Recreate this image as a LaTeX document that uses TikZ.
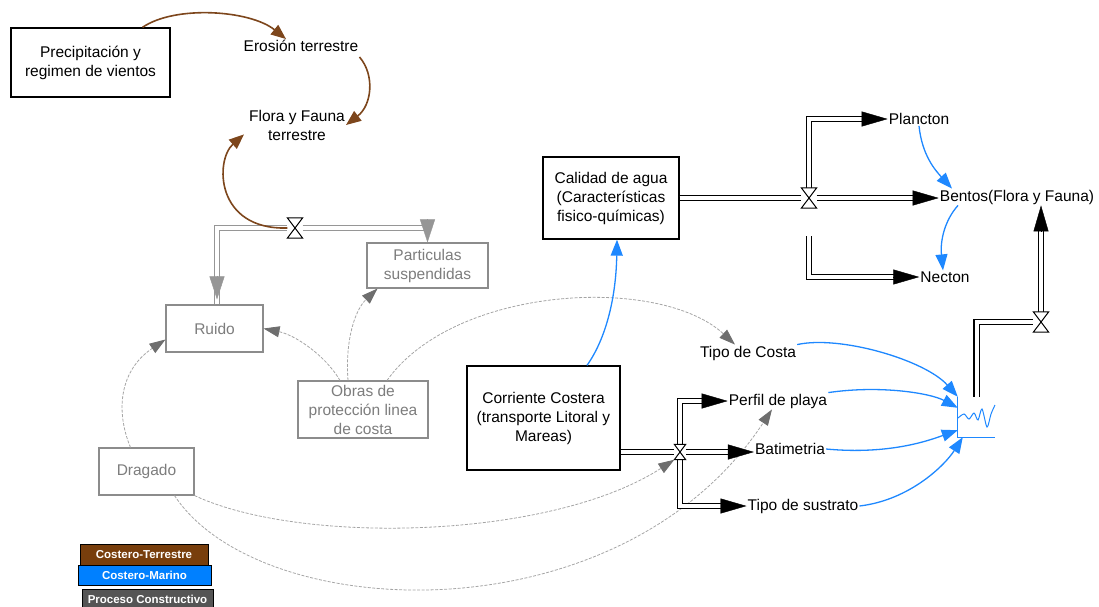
\documentclass[tikz,border=0pt]{standalone}
\usepackage{fontspec}
\setmainfont{Liberation Sans}
\usetikzlibrary{arrows.meta}
\definecolor{brownln}{RGB}{125,70,28}
\definecolor{bluearr}{RGB}{30,136,255}
\definecolor{grayln}{RGB}{165,165,165}
\definecolor{graytip}{RGB}{110,110,110}
\definecolor{grayframe}{RGB}{140,140,140}
\definecolor{graytext}{RGB}{125,125,125}
\definecolor{gpipecol}{RGB}{150,150,150}
\definecolor{legbrown}{RGB}{120,62,12}
\definecolor{legblue}{RGB}{0,128,255}
\definecolor{leggray}{RGB}{85,85,85}

% hourglass valve drawn over the pipes
\newcommand\valvesym[1]{\draw[valveline] (#1.north west) -- (#1.north east) -- (#1.south west) -- (#1.south east) -- cycle;}

\begin{document}
\begin{tikzpicture}[x=1pt,y=-1pt,
  font=\fontsize{15.5}{19}\selectfont,
  every node/.style={align=center},
  blackbox/.style={draw=black, line width=1.3pt, fill=white, inner sep=0pt},
  greybox/.style={draw=grayframe, line width=1.1pt, fill=white, text=graytext, inner sep=0pt},
  lbl/.style={inner sep=1pt},
  valvenode/.style={minimum width=15pt, minimum height=20pt, inner sep=0pt},
  valveline/.style={draw=black, line width=1pt, fill=white, line join=miter},
  pipe/.style={draw=black, line width=1.2pt, double=white, double distance=4pt},
  gpipe/.style={draw=gpipecol, line width=1.2pt, double=white, double distance=4pt},
  pipetip/.style={draw=black, line width=0.4pt, -{Triangle[length=26pt,width=15pt,color=black]}},
  gpipetip/.style={draw=gpipecol, line width=0.4pt, -{Triangle[length=23pt,width=15pt,color=gpipecol]}},
  brownarr/.style={draw=brownln, line width=1.6pt, -{Triangle[length=15pt,width=12pt,color=brownln]}},
  bluecurve/.style={draw=bluearr, line width=1.3pt, -{Triangle[length=16pt,width=12pt,color=bluearr]}},
  dasharr/.style={draw=grayln, line width=0.8pt, dash pattern=on 3pt off 1.5pt, -{Triangle[length=16pt,width=11pt,color=graytip]}},
  legbox/.style={draw=black, line width=1pt, text=white, inner sep=0pt, font=\fontsize{11.5}{13}\selectfont\bfseries}
]
\useasboundingbox (0,0) rectangle (1099,606);
\clip (0,0) rectangle (1099,606);

% boxes
\node[blackbox, minimum width=159pt, minimum height=69pt] (precip) at (90.5,62.5) {Precipitación y\\regimen de vientos};
\node[blackbox, minimum width=136pt, minimum height=82pt] (calidad) at (611,198) {Calidad de agua\\(Características\\fisico-químicas)};
\node[blackbox, minimum width=153pt, minimum height=104pt] (corr) at (543.5,418) {Corriente Costera\\(transporte Litoral y\\Mareas)};
\node[greybox, minimum width=97pt, minimum height=47pt] (ruido) at (214.5,328.5) {Ruido};
\node[greybox, minimum width=121pt, minimum height=45pt] (partic) at (427.5,265.5) {Particulas\\suspendidas};
\node[greybox, minimum width=130pt, minimum height=57pt] (obras) at (363,409.5) {Obras de\\protección linea\\de costa};
\node[greybox, minimum width=95pt, minimum height=47pt] (dragado) at (146.5,471.5) {Dragado};

% plain labels
\node[lbl] (erosion) at (301,46) {Erosión terrestre};
\node[lbl] (florat) at (297,125) {Flora y Fauna\\terrestre};
\node[lbl] (plancton) at (919,119) {Plancton};
\node[lbl] (bentos) at (1017,197) {Bentos(Flora y Fauna)};
\node[lbl] (necton) at (945,277) {Necton};
\node[lbl] (tipocosta) at (748,353) {Tipo de Costa};
\node[lbl] (perfil) at (778,401) {Perfil de playa};
\node[lbl] (bati) at (790,449) {Batimetria};
\node[lbl] (sustrato) at (803,506) {Tipo de sustrato};

% valves and the sink
\node[valvenode] (v1) at (295,228) {};
\node[valvenode] (v2) at (809,198) {};
\node[valvenode, minimum width=11pt, minimum height=15pt] (v3) at (680,452) {};
\node[valvenode] (v4) at (1041,322) {};
\node[minimum width=37pt, minimum height=40pt, inner sep=0pt] (sink) at (976.5,417) {};
\coordinate (nec0) at (809,236);

% constructive-process links
\draw[dasharr] ([xshift=-23pt]obras.north) .. controls (325,355) and (295,335) .. (ruido.east);
\draw[dasharr] ([xshift=-15pt]obras.north) .. controls (345,340) and (355,310) .. ([xshift=-50pt]partic.south);
\draw[dasharr] ([xshift=24pt]obras.north) .. controls (455,285) and (660,275) .. ([xshift=-13pt]tipocosta.north);
\draw[dasharr] ([xshift=-16pt]dragado.north) .. controls (115,410) and (120,370) .. ([yshift=-11pt]ruido.west);
\draw[dasharr] (dragado.south east) .. controls (300,545) and (550,540) .. (v3.south west);
\draw[dasharr] ([xshift=28pt]dragado.south) .. controls (260,625) and (620,640) .. ([xshift=-6pt]perfil.south);

% grey flow pipe
\draw[gpipe, shorten >=12pt] ([xshift=2.5pt]ruido.north) |- (v1) -| (partic.north);
\draw[gpipetip] ([xshift=2.5pt,yshift=28pt]ruido.north) -- ([xshift=2.5pt,yshift=5pt]ruido.north);
\draw[gpipetip] ([yshift=23pt]partic.north) -- (partic.north);

% black flow pipes
\coordinate (bentin) at (v2 -| bentos.west);
\draw[pipe, shorten >=20pt] (calidad.east) -- (v2) -- (bentin);
\draw[pipetip] ([xshift=-26pt]bentin) -- (bentin);
\draw[pipe, shorten >=20pt] (v2) |- (plancton.west);
\draw[pipetip] ([xshift=-26pt]plancton.west) -- (plancton.west);
\draw[pipe, shorten >=20pt] (nec0) |- (necton.west);
\draw[pipetip] ([xshift=-26pt]necton.west) -- (necton.west);

\coordinate (bentup) at (v4 |- bentos.south);
\draw[pipe, shorten >=20pt] (sink.north) |- (v4) -- (bentup);
\draw[pipetip] ([yshift=-26pt]bentup) -- (bentup);

\coordinate (corrout) at (corr.east |- v3);
\coordinate (batin) at (v3 -| bati.west);
\draw[pipe, shorten >=20pt] (corrout) -- (v3) -- (batin);
\draw[pipetip] ([xshift=-26pt]batin) -- (batin);
\draw[pipe, shorten >=20pt] (v3) |- (perfil.west);
\draw[pipetip] ([xshift=-26pt]perfil.west) -- (perfil.west);
\draw[pipe, shorten >=20pt] (v3) |- (sustrato.west);
\draw[pipetip] ([xshift=-26pt]sustrato.west) -- (sustrato.west);

% coastal-terrestrial links
\draw[brownarr] ([xshift=52pt]precip.north) .. controls (175,5) and (250,10) .. ([xshift=-15pt]erosion.north);
\draw[brownarr] ([yshift=-4pt]erosion.south east) .. controls (375,75) and (372,105) .. (florat.east);
\draw[brownarr] (v1.west) .. controls (215,230) and (215,160) .. ([xshift=-4pt,yshift=7pt]florat.south west);

% coastal-marine links
\draw[bluecurve] (plancton.south) .. controls (922,155) and (935,170) .. ([xshift=-65pt]bentos.north);
\draw[bluecurve] ([xshift=-59pt]bentos.south) .. controls (945,220) and (940,240) .. ([xshift=-2pt]necton.north);
\draw[bluecurve] ([xshift=43.5pt]corr.north) .. controls (605,340) and (616,300) .. ([xshift=6pt]calidad.south);
\draw[bluecurve] (tipocosta.north east) .. controls (840,335) and (925,360) .. (sink.north west);
\draw[bluecurve] (perfil.north east) .. controls (880,385) and (930,393) .. ([yshift=-11pt]sink.north west);
\draw[bluecurve] (bati.east) .. controls (890,455) and (930,440) .. ([yshift=7pt]sink.south west);
\draw[bluecurve] (sustrato.east) .. controls (910,500) and (945,465) .. ([xshift=5pt]sink.south west);

% sink symbol
\draw[draw=bluearr, line width=1.3pt] (sink.north west) -- (sink.south west) -- (sink.south east);
\draw[draw=bluearr, line width=1pt] plot[smooth] coordinates {(958,418) (964,414) (969,419) (974,413) (978,420) (982,409) (987,427) (991,414) (995,405)};

% valves
\valvesym{v1}
\valvesym{v2}
\valvesym{v3}
\valvesym{v4}

% legend
\node[legbox, fill=legbrown, minimum width=128pt, minimum height=21pt] (legct) at (144,554.5) {Costero-Terrestre};
\node[legbox, fill=legblue, minimum width=133pt, minimum height=20pt] (legcm) at (144.5,575) {Costero-Marino};
\node[legbox, fill=leggray, minimum width=131pt, minimum height=21pt] (legpc) at (147.5,599.5) {Proceso Constructivo};
\end{tikzpicture}
\end{document}
